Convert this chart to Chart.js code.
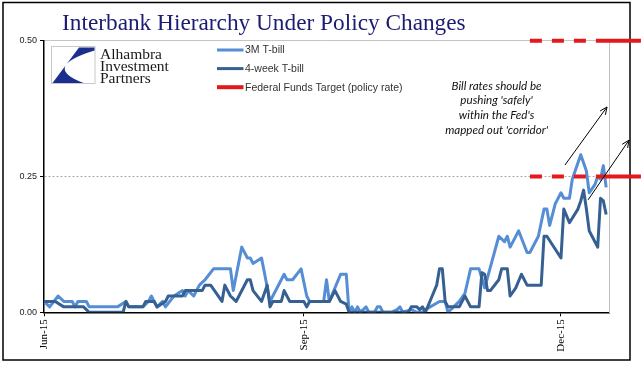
<!DOCTYPE html>
<html><head><meta charset="utf-8">
<script src="https://cdn.jsdelivr.net/npm/chart.js@4.4.1/dist/chart.umd.min.js"></script>
<style>html,body{margin:0;padding:0;background:#fff;}</style>
</head><body>
<canvas id="c" width="641" height="375"></canvas>
<script>
// ---------- data ----------
const titleText = "Interbank Hierarchy Under Policy Changes";
const seriesLabels = ["3M T-bill", "4-week T-bill", "Federal Funds Target (policy rate)"];
// x values are days since 1 Jun 2015
const tickDays = [0, 92, 183];
const tickLabels = ["Jun-15", "Sep-15", "Dec-15"];
const yTicks = [0, 0.25, 0.5];

const bill3mDays = [0,2,5,7,10,11,12,15,16,26,29,30,35,37,38,40,42,43,46,49,50,51,53,55,57,60,66,67,70,72,73,74,77,80,85,86,88,91,93,94,99,100,101,105,107,108,109,110,111,112,114,115,117,118,119,120,123,125,126,127,130,132,134,135,140,142,143,146,147,149,151,154,156,161,163,164,165,168,171,172,175,177,178,179,181,183,184,186,187,190,192,193,195,196,197,198,199];
const bill3mVals = [0.02,0.01,0.03,0.02,0.02,0.01,0.02,0.02,0.01,0.01,0.02,0.01,0.01,0.02,0.03,0.01,0.02,0.01,0.03,0.04,0.03,0.04,0.03,0.05,0.06,0.08,0.08,0.04,0.12,0.10,0.10,0.09,0.10,0.02,0.07,0.06,0.06,0.08,0.03,0.02,0.02,0.06,0.02,0.07,0.07,0.00,0.01,0.00,0.01,0.00,0.01,0.00,0.00,0.01,0.01,0.00,0.00,0.005,0.01,0.00,0.005,0.00,0.00,0.005,0.02,0.02,0.00,0.015,0.02,0.035,0.08,0.08,0.045,0.14,0.13,0.14,0.12,0.15,0.11,0.11,0.14,0.19,0.19,0.16,0.20,0.22,0.21,0.21,0.245,0.29,0.26,0.22,0.235,0.25,0.245,0.27,0.23];

const bill4wDays = [0,4,7,14,16,28,29,30,35,36,39,40,43,44,49,50,56,57,59,63,64,66,68,72,73,74,77,79,80,81,84,85,87,92,93,94,101,103,105,107,108,129,130,132,133,134,135,137,139,140,141,142,143,147,149,151,154,155,156,157,158,161,162,164,165,167,169,171,176,177,178,183,184,186,189,190,191,192,193,194,196,197,198,199];
const bill4wVals = [0.02,0.02,0.01,0.01,0.00,0.00,0.02,0.01,0.01,0.02,0.02,0.01,0.02,0.03,0.03,0.04,0.04,0.05,0.05,0.02,0.05,0.03,0.02,0.06,0.06,0.04,0.02,0.05,0.01,0.02,0.02,0.04,0.02,0.02,0.01,0.02,0.02,0.04,0.02,0.015,0.00,0.00,0.01,0.01,0.005,0.01,0.00,0.025,0.05,0.08,0.08,0.02,0.01,0.01,0.03,0.01,0.01,0.073,0.07,0.04,0.04,0.06,0.08,0.08,0.03,0.045,0.07,0.05,0.05,0.14,0.14,0.10,0.19,0.165,0.19,0.205,0.225,0.19,0.15,0.14,0.12,0.21,0.205,0.18];

const fedDays = [172, 195.4, 211.3];
const fedUpper = [0.50, 0.50, 0.50];
const fedLower = [0.25, 0.25, 0.25];

const logoLines = ["Alhambra", "Investment", "Partners"];
const noteLines = ["Bill rates should be", "pushing 'safely'", "within the Fed's", "mapped out 'corridor'"];
// annotation anchors in data units [day, value]
const noteAnchor = [160.2, 0.4166];
const arrows = [
  [[184.4, 0.271], [199.3, 0.378]],
  [[192.6, 0.207], [207.1, 0.317]]
];

// ---------- chart ----------
const pts = (xs, ys) => xs.map((x, i) => ({x: x, y: ys[i]}));
const RED = '#e31a1c';

const decor = {
  id: 'decor',
  beforeDraw(chart) {
    const ctx = chart.ctx;
    ctx.save();
    ctx.fillStyle = '#fff';
    ctx.fillRect(0, 0, chart.width, chart.height);
    ctx.strokeStyle = '#000';
    ctx.lineWidth = 1.5;
    ctx.strokeRect(3, 2.5, 627, 357.5);
    ctx.restore();
  },
  afterDraw(chart) {
    const ctx = chart.ctx;
    const xs = chart.scales.x, ys = chart.scales.y;
    ctx.save();
    // title
    ctx.fillStyle = '#1c1c72';
    ctx.font = '23.3px "Liberation Serif"';
    ctx.textBaseline = 'alphabetic';
    ctx.textAlign = 'left';
    ctx.fillText(titleText, 62, 30);

    // logo
    ctx.strokeStyle = '#c8c8c8';
    ctx.lineWidth = 1;
    ctx.strokeRect(51.5, 46.5, 43.5, 37);
    ctx.fillStyle = '#1b2f8e';
    ctx.beginPath();
    ctx.moveTo(79, 47.5);
    ctx.lineTo(94.5, 47.5);
    ctx.lineTo(94.5, 50.5);
    ctx.quadraticCurveTo(41, 67, 83.5, 83);
    ctx.lineTo(52.5, 83);
    ctx.closePath();
    ctx.fill();
    ctx.fillStyle = '#1a1a1a';
    ctx.font = '15.5px "Liberation Serif"';
    logoLines.forEach((t, i) => ctx.fillText(t, 100, 58.5 + i * 12));

    // legend
    ctx.font = '10.5px "Liberation Sans"';
    ctx.textBaseline = 'middle';
    let row = 0;
    chart.data.datasets.forEach(ds => {
      if (ds.hideInLegend) return;
      const y = 50 + row * 18.6;
      ctx.strokeStyle = ds.borderColor;
      ctx.lineWidth = ds.borderWidth;
      ctx.setLineDash([]);
      ctx.beginPath();
      ctx.moveTo(217, y);
      ctx.lineTo(243.5, y);
      ctx.stroke();
      ctx.fillStyle = '#333';
      ctx.fillText(ds.label, 245, y + 0.5);
      row++;
    });

    // note text
    ctx.fillStyle = '#111';
    ctx.font = 'italic 11.6px Lato';
    ctx.textAlign = 'center';
    const nx = xs.getPixelForValue(noteAnchor[0]);
    const ny = ys.getPixelForValue(noteAnchor[1]);
    noteLines.forEach((t, i) => ctx.fillText(t, nx, ny + i * 14.7));

    // arrows
    ctx.strokeStyle = '#000';
    ctx.lineWidth = 1;
    arrows.forEach(a => {
      const x1 = xs.getPixelForValue(a[0][0]), y1 = ys.getPixelForValue(a[0][1]);
      const x2 = xs.getPixelForValue(a[1][0]), y2 = ys.getPixelForValue(a[1][1]);
      ctx.beginPath();
      ctx.moveTo(x1, y1);
      ctx.lineTo(x2, y2);
      const ang = Math.atan2(y2 - y1, x2 - x1);
      const L = 8, w = 0.42;
      ctx.moveTo(x2 - L * Math.cos(ang - w), y2 - L * Math.sin(ang - w));
      ctx.lineTo(x2, y2);
      ctx.lineTo(x2 - L * Math.cos(ang + w), y2 - L * Math.sin(ang + w));
      ctx.stroke();
    });
    ctx.restore();
  }
};

const fedSegment = {
  borderDash: c => (c.p0DataIndex === 0 ? [12, 10] : undefined)
};

new Chart(document.getElementById('c'), {
  type: 'line',
  data: {
    datasets: [
      {label: seriesLabels[0], data: pts(bill3mDays, bill3mVals), borderColor: '#558ed5', borderWidth: 3, pointRadius: 0, borderJoinStyle: 'round', order: 3},
      {label: seriesLabels[1], data: pts(bill4wDays, bill4wVals), borderColor: '#366092', borderWidth: 3, pointRadius: 0, borderJoinStyle: 'round', order: 2},
      {label: seriesLabels[2], data: pts(fedDays, fedUpper), borderColor: RED, borderWidth: 4, pointRadius: 0, clip: false, order: 1, segment: fedSegment},
      {label: seriesLabels[2], data: pts(fedDays, fedLower), borderColor: RED, borderWidth: 4, pointRadius: 0, clip: false, order: 1, segment: fedSegment, hideInLegend: true}
    ]
  },
  options: {
    responsive: false,
    animation: false,
    devicePixelRatio: 1,
    layout: {padding: {top: 40.7, left: 0, right: 0, bottom: 0}},
    plugins: {legend: {display: false}, tooltip: {enabled: false}, title: {display: false}},
    scales: {
      x: {
        type: 'linear', min: 0, max: 200,
        afterBuildTicks: s => { s.ticks = tickDays.map(v => ({value: v})); },
        afterFit: s => { s.height = 375 - 312.3; },
        ticks: {
          autoSkip: false, minRotation: 90, maxRotation: 90, padding: 3, color: '#000',
          font: {family: 'Liberation Serif', size: 11},
          callback: v => { const i = tickDays.indexOf(v); return i >= 0 ? tickLabels[i] : ''; }
        },
        grid: {drawOnChartArea: false, drawTicks: true, tickLength: 4, tickColor: '#000'},
        border: {color: '#000', width: 1.5}
      },
      y: {
        min: 0, max: 0.5,
        afterBuildTicks: s => { s.ticks = yTicks.map(v => ({value: v})); },
        afterFit: s => { s.width = 44; },
        ticks: {color: '#222', padding: 3, font: {family: 'Liberation Sans', size: 9}, callback: v => Number(v).toFixed(2)},
        grid: {
          color: c => (c.tick && c.tick.value === 0) ? 'rgba(0,0,0,0)' : (c.tick && c.tick.value === 0.25 ? '#a8a8a8' : '#c4c4c4'),
          tickColor: '#000', tickLength: 4, lineWidth: 1
        },
        border: {color: '#000', width: 1.5, dash: c => (c.tick && c.tick.value === 0.25) ? [2, 2] : []}
      },
      y2: {
        position: 'right', min: 0, max: 0.5,
        afterFit: s => { s.width = 641 - 609; },
        ticks: {display: false},
        grid: {display: false},
        border: {display: true, color: '#c0c0c0', width: 1}
      }
    }
  },
  plugins: [decor]
});
</script>
</body></html>
